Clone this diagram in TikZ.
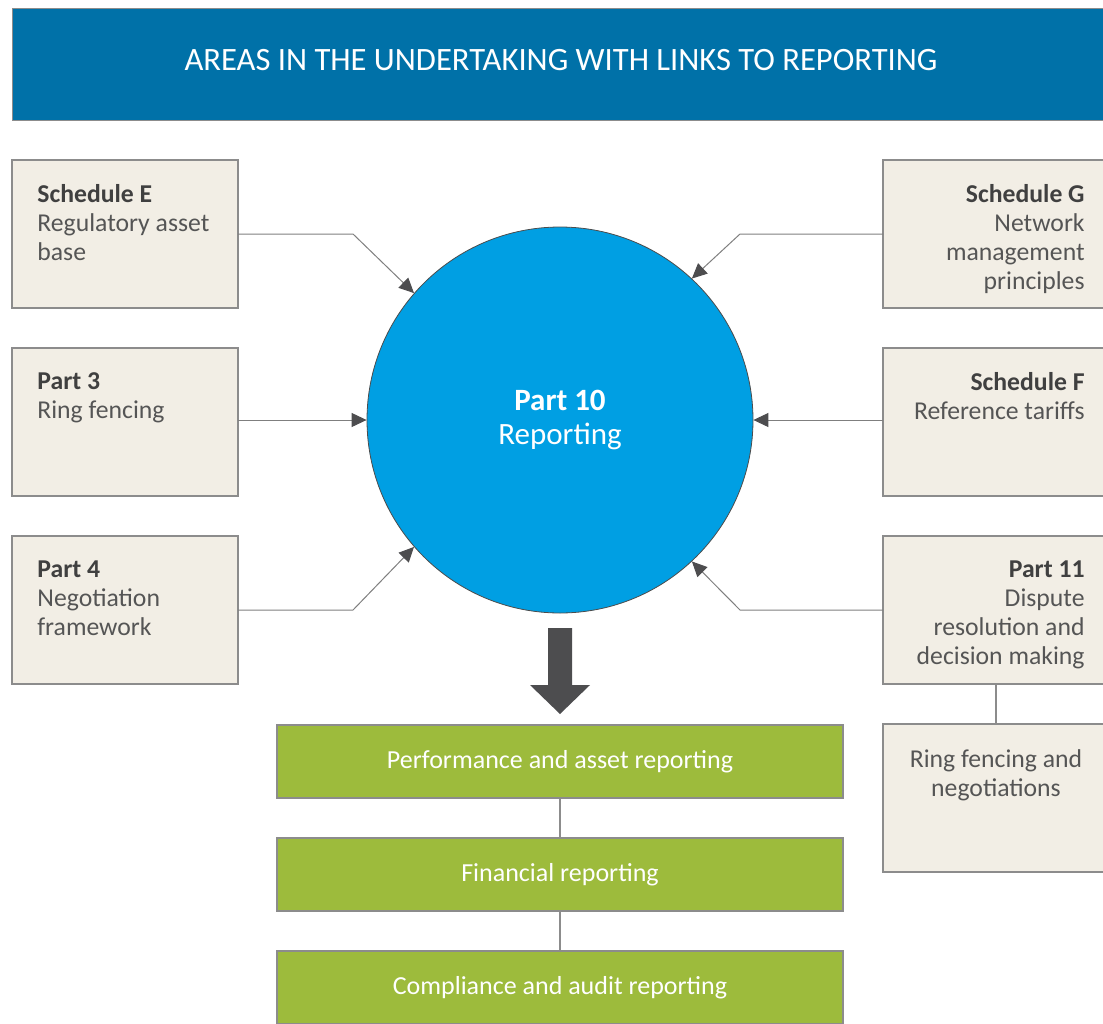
\documentclass[tikz,border=0pt]{standalone}
\usepackage{fontspec}
\setmainfont{Carlito}
\usetikzlibrary{positioning,arrows.meta}
\definecolor{bandblue}{HTML}{0071A8}
\definecolor{discblue}{HTML}{009FE3}
\definecolor{boxbeige}{HTML}{F2EEE5}
\definecolor{boxline}{HTML}{8C8C8C}
\definecolor{feedline}{HTML}{7F7F7F}
\definecolor{leafgreen}{HTML}{9DBB3C}
\definecolor{arrowgrey}{HTML}{4D4D4F}
\definecolor{textgrey}{HTML}{555555}
\definecolor{headgrey}{HTML}{404040}
\newcommand{\areahead}[1]{{\bfseries\color{headgrey}#1}}
\tikzset{
  banner/.style={fill=bandblue, draw=black!45, line width=0.4pt, minimum width=549pt, minimum height=56pt, text=white, text depth=4pt, font=\fontsize{16.3}{19}\selectfont, outer sep=0pt},
  area/.style={draw=boxline, fill=boxbeige, line width=0.6pt, minimum width=113pt, minimum height=74pt, inner sep=0pt, outer sep=0pt},
  area text/.style={inner sep=0pt, text=textgrey, font=\fontsize{12.85}{14.5}\selectfont},
  left text/.style={area text, align=left, anchor=north west},
  right text/.style={area text, align=right, anchor=north east},
  mid text/.style={area text, align=center, anchor=north},
  hub/.style={circle, fill=discblue, draw=black!70, line width=0.4pt, minimum size=193pt, inner sep=0pt, text=white, align=center, font=\fontsize{15.5}{17}\selectfont},
  report/.style={fill=leafgreen, draw=boxline, line width=0.6pt, minimum width=283pt, minimum height=36.5pt, text=white, font=\fontsize{13}{15.6}\selectfont, outer sep=0pt},
  feed/.style={draw=feedline, line width=0.5pt, -{Triangle[length=7.5pt,width=7pt,color=arrowgrey]}},
  tie line/.style={draw=boxline, line width=0.6pt},
  big down arrow/.style={fill=arrowgrey},
}

\begin{document}
\begin{tikzpicture}[x=0.5pt, y=-0.5pt, node distance=20pt]
\useasboundingbox (0,0) rectangle (1103,1023);
% the nodes
\node [banner, anchor=north west] (title) at (12,8) {AREAS IN THE UNDERTAKING WITH LINKS TO REPORTING};
\node [hub] (hub) at (560,420) {\textbf{Part 10}\\Reporting};

\node [area] (schE) at (125,234) {};
\node [area, below=of schE] (part3) {};
\node [area, below=of part3] (part4) {};
\node [area] (schG) at (996,234) {};
\node [area, below=of schG] (schF) {};
\node [area, below=of schF] (part11) {};
\node [area, below=of part11] (ringfn) {};

\node [left text] (schEtext) at ([shift={(25,24)}]schE.north west) {\areahead{Schedule E}\\Regulatory asset\\base};
\node [left text] (part3text) at ([shift={(25,24)}]part3.north west) {\areahead{Part 3}\\Ring fencing};
\node [left text] (part4text) at ([shift={(25,24)}]part4.north west) {\areahead{Part 4}\\Negotiation\\framework};
\node [right text] (schGtext) at ([shift={(-24,24)}]schG.north east) {\areahead{Schedule G}\\Network\\management\\principles};
\node [right text] (schFtext) at ([shift={(-24,24)}]schF.north east) {\areahead{Schedule F}\\Reference tariffs};
\node [right text] (part11text) at ([shift={(-24,24)}]part11.north east) {\areahead{Part 11}\\Dispute\\resolution and\\decision making};
\node [mid text] (ringfntext) at ([shift={(0,25)}]ringfn.north) {Ring fencing and\\negotiations};

\node [report] (perf) at (560,761.5) {Performance and asset reporting};
\node [report, below=of perf] (fin) {Financial reporting};
\node [report, below=of fin] (compl) {Compliance and audit reporting};

%drawings of vectors
\draw[feed] (schE.east) -- ++(115,0) -- (hub.139);
\draw[feed] (hub.west -| part3.east) -- (hub.west);
\draw[feed] (part4.east) -- ++(115,0) -- (hub.221);
\draw[feed] (schG.west) -- ++(-143,0) -- (hub.47);
\draw[feed] (hub.east -| schF.west) -- (hub.east);
\draw[feed] (part11.west) -- ++(-143,0) -- (hub.313);

\coordinate (dn) at (560,628);
\fill[big down arrow] (dn) +(-12,0) -- +(12,0) -- +(12,57) -- +(30,57) -- +(0,86) -- +(-30,57) -- +(-12,57) -- cycle;

\draw[tie line] (perf.south) -- (fin.north);
\draw[tie line] (fin.south) -- (compl.north);
\draw[tie line] (part11.south) -- (ringfn.north);
\end{tikzpicture}
\end{document}
